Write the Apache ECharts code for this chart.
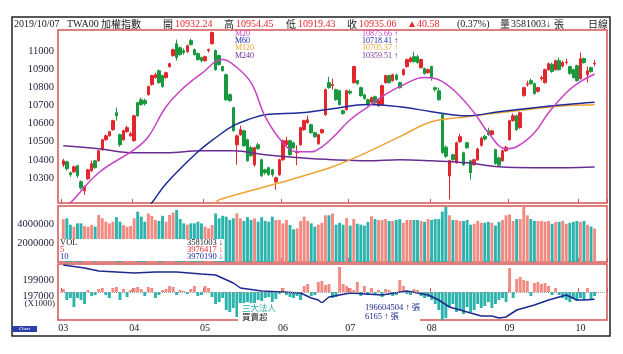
<!DOCTYPE html>
<html>
<head>
<meta charset="utf-8">
<script src="https://cdn.jsdelivr.net/npm/echarts@6/dist/echarts.min.js"></script>
<style>
html, body { margin: 0; padding: 0; background: #fff; }
#main { width: 623px; height: 354px; }
</style>
</head>
<body>
<div id="main"></div>
<script>
// trading days per month (2019)
const daysMar = [4,5,6,7,8,11,12,13,14,15,18,19,20,21,22,25,26,27,28,29];
const daysApr = [1,2,3,8,9,10,11,12,15,16,17,18,19,22,23,24,25,26,29,30];
const daysMay = [2,3,6,7,8,9,10,13,14,15,16,17,20,21,22,23,24,27,28,29,30,31];
const daysJun = [3,4,5,6,10,11,12,13,14,17,18,19,20,21,24,25,26,27,28];
const daysJul = [1,2,3,4,5,8,9,10,11,12,15,16,17,18,19,22,23,24,25,26,29,30,31];
const daysAug = [1,2,5,6,7,8,9,12,13,14,15,16,19,20,21,22,23,26,27,28,29,30];
const daysSep = [2,3,4,5,6,9,10,11,12,16,17,18,19,20,23,24,25,26,27,30];
const daysOct = [1,2,3,4,7];

// [open, close, low, high]
const kMar = [[10372,10394,10360,10405],[10389,10350,10340,10395],[10328,10317,10305,10335],[10333,10361,10325,10368],[10367,10311,10300,10372],
  [10278,10244,10235,10285],[10228,10250,10205,10258],[10294,10344,10288,10350],[10339,10378,10333,10395],[10394,10356,10350,10400],
  [10394,10450,10390,10455],[10456,10511,10450,10516],[10511,10533,10505,10540],[10533,10556,10528,10561],[10567,10617,10561,10622],
  [10661,10644,10617,10690],[10539,10483,10472,10545],[10511,10561,10505,10567],[10556,10578,10550,10589],[10533,10544,10528,10556]];
const kApr = [[10506,10644,10500,10650],[10717,10644,10639,10722],[10733,10706,10700,10745],[10728,10711,10700,10739],[10761,10806,10756,10811],
  [10817,10867,10811,10872],[10856,10872,10850,10883],[10894,10828,10822,10900],[10867,10806,10800,10872],[10856,10883,10850,10889],
  [10917,10933,10911,10939],[10978,11011,10972,11017],[11044,10967,10950,11067],[11022,10983,10978,11028],[11005,10995,10983,11017],
  [11000,11033,10994,11039],[11061,11039,11033,11072],[11011,10983,10978,11017],[10989,10956,10950,10995],[10967,10950,10939,10972]];
const kMay = [[10950,10972,10944,10978],[11006,11011,10995,11017],[11044,11106,11039,11111],[11006,10900,10894,11011],[10978,10928,10922,10983],
  [10917,10894,10889,10922],[10872,10733,10728,10878],[10761,10728,10722,10767],[10689,10561,10556,10694],[10483,10533,10372,10539],
  [10539,10567,10533,10589],[10561,10478,10472,10567],[10511,10394,10389,10517],[10467,10422,10417,10478],[10372,10467,10361,10472],
  [10483,10461,10456,10494],[10400,10311,10306,10406],[10344,10328,10317,10350],[10356,10317,10311,10361],[10344,10317,10306,10350],
  [10278,10300,10233,10306],[10317,10400,10311,10406]];
const kJun = [[10400,10506,10394,10511],[10483,10506,10478,10528],[10506,10428,10422,10511],[10494,10467,10461,10500],[10439,10444,10370,10480],
  [10483,10578,10478,10583],[10567,10617,10561,10622],[10606,10622,10600,10645],[10594,10550,10544,10600],[10550,10528,10522,10556],
  [10489,10539,10483,10544],[10550,10567,10544,10572],[10650,10789,10644,10794],[10828,10800,10794,10860],[10811,10817,10789,10850],
  [10789,10733,10728,10794],[10783,10706,10700,10789],[10672,10656,10650,10678],[10678,10783,10672,10789]];
const kJul = [[10780,10770,10761,10789],[10828,10917,10822,10922],[10839,10822,10817,10844],[10800,10756,10750,10806],[10760,10740,10733,10767],
  [10733,10706,10700,10739],[10720,10745,10711,10750],[10750,10715,10706,10756],[10700,10730,10694,10739],[10706,10811,10700,10817],
  [10828,10867,10822,10872],[10867,10828,10822,10872],[10839,10872,10833,10878],[10870,10845,10839,10878],[10828,10800,10794,10833],
  [10872,10900,10866,10906],[10917,10956,10911,10961],[10945,10965,10939,10972],[10972,10944,10939,11000],[10972,10939,10933,10983],
  [10911,10956,10906,10961],[10906,10878,10872,10911],[10883,10900,10878,10906]];
const kAug = [[10917,10856,10839,10922],[10800,10790,10778,10806],[10783,10733,10728,10800],[10650,10440,10433,10656],[10470,10420,10410,10480],
  [10310,10395,10180,10400],[10428,10400,10394,10433],[10383,10494,10378,10500],[10500,10528,10494,10545],[10439,10372,10367,10445],
  [10494,10467,10461,10500],[10394,10328,10290,10400],[10372,10400,10367,10406],[10400,10460,10394,10467],[10480,10520,10472,10528],
  [10530,10515,10506,10539],[10561,10540,10533,10578],[10540,10560,10533,10567],[10456,10380,10372,10461],[10410,10370,10361,10417],
  [10394,10450,10389,10456],[10450,10470,10444,10478]];
const kSep = [[10511,10617,10506,10622],[10617,10644,10611,10656],[10644,10567,10561,10650],[10578,10661,10572,10667],[10756,10800,10750,10806],
  [10817,10822,10806,10839],[10839,10822,10817,10850],[10822,10767,10761,10828],[10780,10800,10772,10806],[10850,10856,10839,10867],
  [10828,10900,10822,10906],[10900,10933,10894,10939],[10930,10890,10883,10939],[10900,10950,10894,10956],[10950,10900,10894,10967],
  [10920,10940,10911,10950],[10940,10942,10928,10961],[10917,10878,10872,10922],[10900,10856,10850,10906],[10922,10839,10833,10928]];
const kOct = [[10850,10961,10844,10994],[10961,10939,10933,10967],[10872,10894,10828,10917],[10911,10889,10883,10917],[10932.24,10935.06,10919.43,10954.45]];

// volume (張)
const volMar = [4580000,4680000,4000000,3790000,4140000,4140000,3850000,3790000,3960000,3790000,5040000,4680000,4320000,4140000,4320000,4800000,4320000,3960000,3790000,3850000];
const volApr = [4680000,5390000,4860000,4320000,5200000,4950000,4500000,4400000,4950000,4320000,5040000,5300000,5570000,4600000,4140000,4000000,4140000,4140000,4320000,4140000];
const volMay = [3790000,3600000,3960000,5200000,4680000,4950000,4860000,4500000,4680000,5200000,4680000,4400000,4800000,4500000,4680000,4320000,4800000,4400000,4320000,4860000,4500000,4500000];
const volJun = [4140000,4500000,3960000,3500000,3600000,4400000,4860000,4400000,4140000,3790000,4000000,4200000,5000000,5000000,5200000,4000000,4200000,4000000,4700000];
const volJul = [3900000,4600000,4100000,4000000,3900000,4300000,4900000,4600000,4500000,4500000,4600000,4400000,4400000,4500000,4600000,4200000,4500000,4500000,4500000,4500000,4400000,4300000,4600000];
const volAug = [4500000,4600000,4600000,5400000,5900000,5000000,4500000,4500000,4400000,4400000,4500000,4000000,4100000,4400000,4200000,4200000,4300000,4200000,3900000,4300000,4500000,5000000];
const volSep = [5100000,4400000,4600000,4600000,5900000,5000000,4600000,4400000,4400000,4400000,4300000,4400000,4100000,4300000,4300000,4400000,4100000,4200000,4300000,4400000];
const volOct = [4300000,4400000,4000000,3800000,3581003];

// 三大法人買賣超 (億)
const netMar = [30,-80,-60,-150,-60,-80,-120,20,-40,-30,30,40,-30,-60,40,50,-80,30,-50,20];
const netApr = [40,50,30,-40,50,40,-60,-30,20,30,60,50,-30,20,10,-20,30,60,-40,-30];
const netMay = [60,40,-50,-120,-100,-60,-180,-200,-160,-250,-150,-180,-100,-160,-120,-80,-90,-60,-50,-100,-70,-20];
const netJun = [40,-30,-50,-60,-40,-80,60,80,-40,-30,100,110,70,80,-60,-50,250,80,60];
const netJul = [40,20,100,-40,60,-30,40,-30,20,-50,30,20,-40,-30,120,60,-20,-30,30,20,-40,-60,-50];
const netAug = [-80,-120,-180,-280,-260,-150,-120,-200,-180,-220,-150,-200,-180,-120,-160,-140,-100,-160,-120,-80,-60,-100];
const netSep = [240,-60,130,150,120,110,-40,90,100,80,90,60,-30,40,-30,-60,-80,-100,-70,-90];
const netOct = [-60,-80,40,-70,-40];

// moving averages: [day index, value]
const ma20 = [[0,10133],[2,10161],[10,10328],[20,10456],[24,10528],[29,10694],[34,10800],[39,10878],[45,10956],[48,10928],[53,10828],[57,10639],[62,10494],[66,10444],[70,10444],[73,10472],[76,10522],[81,10622],[86,10694],[90,10750],[95,10806],[102,10856],[106,10844],[111,10772],[116,10661],[120,10550],[125,10461],[128,10472],[133,10550],[137,10661],[142,10772],[146,10833],[150,10875.66]];
const ma60 = [[22,10094],[25,10161],[29,10267],[38,10444],[43,10522],[48,10589],[53,10628],[57,10650],[67,10661],[76,10683],[86,10706],[95,10694],[104,10667],[114,10644],[123,10667],[133,10689],[142,10706],[150,10718.41]];
const ma120 = [[40,10133],[43,10161],[44,10178],[57,10250],[67,10306],[76,10361],[86,10444],[95,10528],[104,10611],[114,10639],[123,10661],[133,10683],[142,10700],[150,10705.37]];
const ma240 = [[0,10478],[10,10461],[20,10439],[29,10439],[39,10450],[48,10450],[57,10428],[67,10411],[76,10400],[86,10394],[95,10400],[104,10394],[114,10383],[123,10361],[133,10356],[142,10356],[150,10359.51]];
// 三大法人 cumulative line (x1000)
const instLine = [[0,200875],[6,200500],[10,200125],[20,199875],[26,200000],[32,200000],[39,199750],[43,199625],[48,198625],[50,198000],[56,197625],[62,197500],[67,197375],[70,196750],[72,196500],[73,196125],[75,196875],[81,197375],[90,197125],[97,197625],[103,197125],[106,196500],[109,195625],[114,195000],[118,194500],[121,194500],[123,194250],[125,194375],[128,195250],[133,195875],[137,196500],[142,197125],[145,196500],[147,196500],[150,196604.504]];

const priceTicks = [10300,10400,10500,10600,10700,10800,10900,11000];

const UP = '#e3262b', DOWN = '#179a3e';
const VUP = '#f28a82', VDOWN = '#2bb3ad';
const BORDER = '#d65454';
const SERIF = "'Liberation Serif','DejaVu Serif','Noto Sans CJK TC',serif";
const CJK = "'Noto Sans CJK TC','Liberation Serif',serif";

const monthDays = [['03',daysMar],['04',daysApr],['05',daysMay],['06',daysJun],['07',daysJul],['08',daysAug],['09',daysSep],['10',daysOct]];
const dates = [];
monthDays.forEach(([m, ds]) => ds.forEach(d => dates.push('2019/' + m + '/' + (d < 10 ? '0' + d : d))));
const PAD = 1;
const cats = [''].concat(dates, ['', '', '']);
const monthStart = new Set();
dates.forEach((d, i) => { if (i === 0 || d.slice(5, 7) !== dates[i - 1].slice(5, 7)) monthStart.add(i + PAD); });

const candles = [].concat(kMar, kApr, kMay, kJun, kJul, kAug, kSep, kOct);
const vols = [].concat(volMar, volApr, volMay, volJun, volJul, volAug, volSep, volOct);
const nets = [].concat(netMar, netApr, netMay, netJun, netJul, netAug, netSep, netOct);

const kData = candles.map((k, i) => [i + PAD].concat(k));
const vData = vols.map((v, i) => ({ value: [i + PAD, v], itemStyle: { color: candles[i][1] >= candles[i][0] ? VUP : VDOWN } }));
const nData = nets.map((v, i) => ({ value: [i + PAD, v], itemStyle: { color: v >= 0 ? VUP : VDOWN } }));
const shift = arr => arr.map(p => [p[0] + PAD, p[1]]);

const xBase = (gi, showLabel) => ({
  type: 'category', gridIndex: gi, data: cats, boundaryGap: true,
  axisLine: { show: false },
  axisTick: { show: true, inside: true, length: 4, interval: i => monthStart.has(i), lineStyle: { color: BORDER } },
  axisLabel: showLabel ? {
    show: true, interval: i => monthStart.has(i), formatter: v => v.slice(5, 7),
    color: '#222', fontFamily: SERIF, fontSize: 10, margin: 3
  } : { show: false },
  splitLine: { show: false }
});

const chart = echarts.init(document.getElementById('main'));

const txt = (x, y, text, fill, size, font, align) => ({
  type: 'text', z: 100, x: x, y: y,
  style: { text: text, fill: fill, font: size + 'px ' + (font || SERIF), textAlign: align || 'left', textVerticalAlign: 'middle' }
});

const yLabel = { color: '#1e1e3c', fontFamily: SERIF, fontSize: 10.5, margin: 4 };

chart.setOption({
  animation: false,
  backgroundColor: '#fff',
  grid: [
    { left: 58, right: 16, top: 30, height: 173, show: true, borderColor: BORDER, borderWidth: 1.5 },
    { left: 58, right: 16, top: 206, height: 56, show: true, borderColor: BORDER, borderWidth: 1.5 },
    { left: 58, right: 16, top: 264, height: 56, show: true, borderColor: BORDER, borderWidth: 1.5 }
  ],
  xAxis: [xBase(0, false), xBase(1, false), xBase(2, true)],
  yAxis: [
    { type: 'value', gridIndex: 0, min: 10160, max: 11120,
      axisLine: { show: false }, axisTick: { show: false },
      axisLabel: Object.assign({ customValues: priceTicks, formatter: v => String(v) }, yLabel),
      splitLine: { show: false } },
    { type: 'value', gridIndex: 1, min: 0, max: 6000000, interval: 2000000,
      axisLine: { show: false }, axisTick: { show: false },
      axisLabel: Object.assign({ showMinLabel: false, showMaxLabel: false, formatter: v => String(v) }, yLabel),
      splitLine: { show: false } },
    { type: 'value', gridIndex: 2, min: 194000, max: 201000, interval: 1000,
      axisLine: { show: false }, axisTick: { show: false },
      axisLabel: Object.assign({ formatter: v => (v === 197000 || v === 199000) ? String(v) : '' }, yLabel),
      splitLine: { show: false } },
    { type: 'value', gridIndex: 2, min: -280, max: 280, show: false, splitLine: { show: false } }
  ],
  series: [
    { type: 'candlestick', xAxisIndex: 0, yAxisIndex: 0, data: kData, encode: { x: 0, y: [1, 2, 3, 4] },
      barWidth: 3,
      itemStyle: { color: UP, color0: DOWN, borderColor: UP, borderColor0: DOWN, borderWidth: 1 } },
    { type: 'line', name: 'M240', xAxisIndex: 0, yAxisIndex: 0, data: shift(ma240), smooth: 0.4, showSymbol: false, lineStyle: { color: '#6b2c92', width: 1.5 } },
    { type: 'line', name: 'M120', xAxisIndex: 0, yAxisIndex: 0, data: shift(ma120), smooth: 0.4, showSymbol: false, lineStyle: { color: '#eea434', width: 1.5 } },
    { type: 'line', name: 'M60', xAxisIndex: 0, yAxisIndex: 0, data: shift(ma60), smooth: 0.4, showSymbol: false, lineStyle: { color: '#1d2b98', width: 1.5 } },
    { type: 'line', name: 'M20', xAxisIndex: 0, yAxisIndex: 0, data: shift(ma20), smooth: 0.4, showSymbol: false, lineStyle: { color: '#c842c4', width: 1.5 } },
    { type: 'bar', xAxisIndex: 1, yAxisIndex: 1, data: vData, barWidth: '82%' },
    { type: 'bar', xAxisIndex: 2, yAxisIndex: 3, data: nData, barWidth: '82%',
      markLine: { silent: true, symbol: 'none', label: { show: false },
        lineStyle: { color: '#9a9a9a', type: 'dotted', width: 1 }, data: [{ yAxis: 0 }] } },
    { type: 'line', xAxisIndex: 2, yAxisIndex: 2, data: shift(instLine), showSymbol: false, lineStyle: { color: '#1c2a8c', width: 1.5 } }
  ],
  graphic: [
    { type: 'rect', z: 90, shape: { x: 12, y: 17, width: 598, height: 319 }, style: { fill: 'none', stroke: '#222', lineWidth: 1.5 } },
    // header
    txt(14, 24, '2019/10/07', '#1a1a1a', 10),
    txt(67, 24, 'TWA00', '#1a1a1a', 10),
    txt(101, 24, '加權指數', '#1a1a1a', 10, CJK),
    txt(163, 24, '開', '#1a1a1a', 10, CJK),
    txt(175, 24, '10932.24', UP, 10),
    txt(224, 24, '高', '#1a1a1a', 10, CJK),
    txt(236, 24, '10954.45', UP, 10),
    txt(286, 24, '低', '#1a1a1a', 10, CJK),
    txt(298, 24, '10919.43', UP, 10),
    txt(347, 24, '收', '#1a1a1a', 10, CJK),
    txt(359, 24, '10935.06', UP, 10),
    txt(407, 24, '▲40.58', UP, 10),
    txt(457, 24, '(0.37%)', '#1a1a1a', 10),
    txt(500, 24, '量', '#1a1a1a', 10, CJK),
    txt(511, 24, '3581003↓', '#1a1a1a', 10),
    txt(554, 24, '張', '#1a1a1a', 10, CJK),
    txt(588, 24, '日線', '#1a1a1a', 10, CJK),
    // MA legend
    txt(235, 34, 'M20', '#c842c4', 8),
    txt(235, 41, 'M60', '#1d2b98', 8),
    txt(235, 48, 'M120', '#eea434', 8),
    txt(235, 56, 'M240', '#6b2c92', 8),
    txt(398, 34, '10875.66 ↑', '#c842c4', 8, SERIF, 'right'),
    txt(398, 41, '10718.41 ↑', '#1d2b98', 8, SERIF, 'right'),
    txt(398, 48, '10705.37 ↑', '#eea434', 8, SERIF, 'right'),
    txt(398, 56, '10359.51 ↑', '#6b2c92', 8, SERIF, 'right'),
    // volume legend
    { type: 'rect', z: 95, shape: { x: 59, y: 239, width: 165, height: 22 }, style: { fill: '#fff' } },
    txt(60, 243, 'VOL', '#1a1a1a', 8.5),
    txt(60, 249.5, '5', UP, 8.5),
    txt(60, 257, '10', '#1d2b98', 8.5),
    txt(223, 243, '3581003 ↓', '#1a1a1a', 8.5, SERIF, 'right'),
    txt(223, 249.5, '3976417 ↓', UP, 8.5, SERIF, 'right'),
    txt(223, 257, '3970190 ↓', '#1d2b98', 8.5, SERIF, 'right'),
    // institutional legend
    { type: 'rect', z: 95, shape: { x: 238, y: 303, width: 182, height: 19 }, style: { fill: '#fff' } },
    txt(242, 308, '三大法人', '#2aaea6', 8.5, CJK),
    txt(242, 317, '買賣超', '#1a1a1a', 8.5, CJK),
    txt(365, 308, '196604504 ↑ 張', '#1c2a8c', 8.5),
    txt(365, 317, '6165 ↑ 張', '#1c2a8c', 8.5),
    txt(55, 304, '(X1000)', '#1e1e3c', 9, SERIF, 'right'),
    // logo
    { type: 'rect', z: 96, shape: { x: 12, y: 326, width: 25, height: 6 }, style: { fill: '#2b3fa8' } },
    txt(24.5, 329, 'Chart', '#fff', 5, SERIF, 'center')
  ]
});
</script>
</body>
</html>
